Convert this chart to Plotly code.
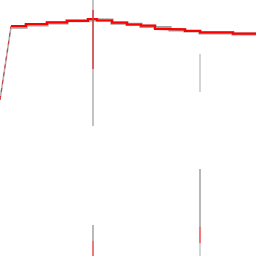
import plotly.graph_objects as go

# step breakpoints (x positions where a new level starts) and level values
step_x = [0, 11, 26, 47, 67, 88, 97, 112, 127, 141, 155, 170, 185, 200, 233, 256]
red_levels = [100, 26, 24, 22.3, 21, 19, 20.5, 22.7, 24.5, 25.7, 28.8, 29.3, 31, 32.3, 33.7, 33.7]
gray_levels = [100, 27.2, 24.8, 23, 20.7, 19.8, 20, 23.2, 24.3, 26.4, 27.7, 29.8, 31, 33, 34, 34]

# vertical spikes: x position, top, bottom
red_spikes_x = [93, 93, 200]
red_spikes_top = [10, 241, 227]
red_spikes_bot = [69, 256, 243]
gray_spikes_x = [93, 93, 200, 200, 200]
gray_spikes_top = [0, 225, 54, 169, 243]
gray_spikes_bot = [126, 241, 92, 227, 256]
gray_spike_colors = ["#9a9a9a", "#8a8a8a", "#b8b8b8", "#888888", "#b8b8b8"]


def step_path(xs, levels):
    px, py = [xs[1]], [levels[1]]
    for i in range(1, len(xs) - 1):
        px += [xs[i], xs[i + 1]]
        py += [levels[i], levels[i]]
    return px, py


fig = go.Figure()
# lead-in (thin) segments from first observation
fig.add_trace(go.Scatter(x=step_x[:2], y=gray_levels[:2], mode="lines",
                         line=dict(color="#b0b0b0", width=1.6)))
fig.add_trace(go.Scatter(x=step_x[:2], y=red_levels[:2], mode="lines",
                         line=dict(color="#e03030", width=1.0, dash="4px,4px")))

gx, gy = step_path(step_x, gray_levels)
fig.add_trace(go.Scatter(x=gx, y=gy, mode="lines", line=dict(color="#a0a0a0", width=3.2)))
rx, ry = step_path(step_x, red_levels)
fig.add_trace(go.Scatter(x=rx, y=ry, mode="lines", line=dict(color="#ff0000", width=2.2)))

for x, t, b, c in zip(gray_spikes_x, gray_spikes_top, gray_spikes_bot, gray_spike_colors):
    fig.add_trace(go.Scatter(x=[x, x], y=[t, b], mode="lines", line=dict(color=c, width=1.2)))
for x, t, b in zip(red_spikes_x, red_spikes_top, red_spikes_bot):
    fig.add_trace(go.Scatter(x=[x, x], y=[t, b], mode="lines", line=dict(color="#e02020", width=1.2)))

fig.update_layout(
    width=256, height=256, margin=dict(l=0, r=0, t=0, b=0),
    paper_bgcolor="white", plot_bgcolor="white", showlegend=False,
    xaxis=dict(range=[0, 256], visible=False, fixedrange=True),
    yaxis=dict(range=[256, 0], visible=False, fixedrange=True),
)
fig.write_html("out.html", config={"displayModeBar": False})
